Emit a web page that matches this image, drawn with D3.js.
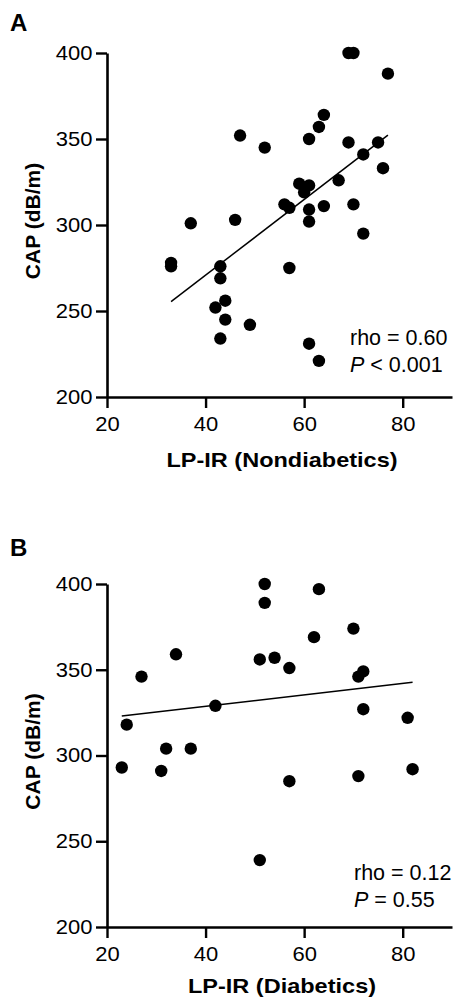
<!DOCTYPE html>
<html>
<head>
<meta charset="utf-8">
<script src="https://cdn.jsdelivr.net/npm/d3@7"></script>
<style>
  body { margin: 0; background: #fff; }
  text { font-family: Arial, "Liberation Sans", sans-serif; fill: #000; }
</style>
</head>
<body>
<div id="chart"></div>
<script>
// DATA
const nondiabLPIR = [69, 70, 77, 64, 63, 47, 52, 61, 69, 75, 72, 76, 67, 59, 61, 60, 56, 57, 61, 64, 70, 61, 37, 46, 72,
                     33, 33, 43, 43, 57, 44, 42, 44, 49, 43, 61, 63];
const nondiabCAP  = [400, 400, 388, 364, 357, 352, 345, 350, 348, 348, 341, 333, 326, 324, 323, 319, 312, 310, 309, 311, 312, 302, 301, 303, 295,
                     278, 276, 276, 269, 275, 256, 252, 245, 242, 234, 231, 221];
const diabLPIR = [52, 52, 63, 70, 62, 34, 27, 51, 54, 57, 71, 72, 42, 72, 81, 24, 23, 31, 32, 37, 57, 71, 82, 51];
const diabCAP  = [400, 389, 397, 374, 369, 359, 346, 356, 357, 351, 346, 349, 329, 327, 322, 318, 293, 291, 304, 304, 285, 288, 292, 239];

// fitted lines, as endpoints [x, y]
const nondiabFit = [[33, 255.4], [77, 352.3]];
const diabFit    = [[23, 323], [82, 342.7]];

const xTicks = [20, 40, 60, 80];
const yTicks = [200, 250, 300, 350, 400];

const panelLetters = ["A", "B"];
const xTitles = ["LP-IR (Nondiabetics)", "LP-IR (Diabetics)"];
const yTitle = "CAP (dB/m)";
const rhoTexts = ["rho = 0.60", "rho = 0.12"];
const pTexts = ["< 0.001", "= 0.55"];

const width = 458, height = 999;

const svg = d3.select("#chart").append("svg")
  .attr("width", width)
  .attr("height", height);

// panel layout: axis pixel positions
const panels = [
  { x: nondiabLPIR, y: nondiabCAP, fit: nondiabFit, top: 53, bottom: 397, letterY: 31, titleY: 467, rhoX: 350, rhoY: 345, pY: 372 },
  { x: diabLPIR, y: diabCAP, fit: diabFit, top: 584, bottom: 927, letterY: 556, titleY: 993, rhoX: 354, rhoY: 880, pY: 907 }
];

const left = 107, right = 452;
const stretch = 1.1; // the source text is a bit wider than Arial

panels.forEach((p, i) => {
  const xScale = d3.scaleLinear().domain([20, 90]).range([left, right]);
  const yScale = d3.scaleLinear().domain([200, 400]).range([p.bottom, p.top]);

  const g = svg.append("g");

  // axes
  const xAxis = g.append("g")
    .attr("transform", `translate(0,${p.bottom})`)
    .call(d3.axisBottom(xScale).tickValues(xTicks).tickSize(11).tickSizeOuter(0).tickPadding(9));
  const yAxis = g.append("g")
    .attr("transform", `translate(${left},0)`)
    .call(d3.axisLeft(yScale).tickValues(yTicks).tickSize(11).tickSizeOuter(0).tickPadding(3));

  [xAxis, yAxis].forEach(a => {
    a.select(".domain").attr("stroke", "#000").attr("stroke-width", 2.6);
    a.selectAll(".tick line").attr("stroke", "#000").attr("stroke-width", 2.4);
    a.selectAll(".tick text")
      .attr("font-size", 20)
      .attr("font-family", "Arial, 'Liberation Sans', sans-serif")
      .attr("fill", "#000");
  });
  xAxis.selectAll(".tick text").attr("transform", `scale(${stretch},1)`);
  yAxis.selectAll(".tick text")
    .attr("x", 0)
    .attr("transform", `translate(-14.5,0) scale(${stretch},1)`);

  // regression line
  g.append("line")
    .attr("x1", xScale(p.fit[0][0])).attr("y1", yScale(p.fit[0][1]))
    .attr("x2", xScale(p.fit[1][0])).attr("y2", yScale(p.fit[1][1]))
    .attr("stroke", "#000")
    .attr("stroke-width", 1.5);

  // points
  g.selectAll("circle")
    .data(p.x.map((v, j) => [v, p.y[j]]))
    .join("circle")
    .attr("cx", d => xScale(d[0]))
    .attr("cy", d => yScale(d[1]))
    .attr("r", 6.2)
    .attr("fill", "#000");

  // labels
  g.append("text")
    .attr("x", 10).attr("y", p.letterY)
    .attr("font-size", 24).attr("font-weight", "bold")
    .text(panelLetters[i]);

  g.append("text")
    .attr("transform", `translate(282,${p.titleY}) scale(1.12,1)`)
    .attr("text-anchor", "middle")
    .attr("font-size", 21).attr("font-weight", "bold")
    .text(xTitles[i]);

  g.append("text")
    .attr("transform", `translate(40,${(p.top + p.bottom) / 2 - 4}) rotate(-90)`)
    .attr("text-anchor", "middle")
    .attr("font-size", 21).attr("font-weight", "bold")
    .text(yTitle);

  g.append("text")
    .attr("x", p.rhoX).attr("y", p.rhoY)
    .attr("font-size", 21.5)
    .text(rhoTexts[i]);

  const pt = g.append("text")
    .attr("x", p.rhoX).attr("y", p.pY)
    .attr("font-size", 21.5);
  pt.append("tspan").attr("font-style", "italic").text("P");
  pt.append("tspan").text(" " + pTexts[i]);
});
</script>
</body>
</html>
